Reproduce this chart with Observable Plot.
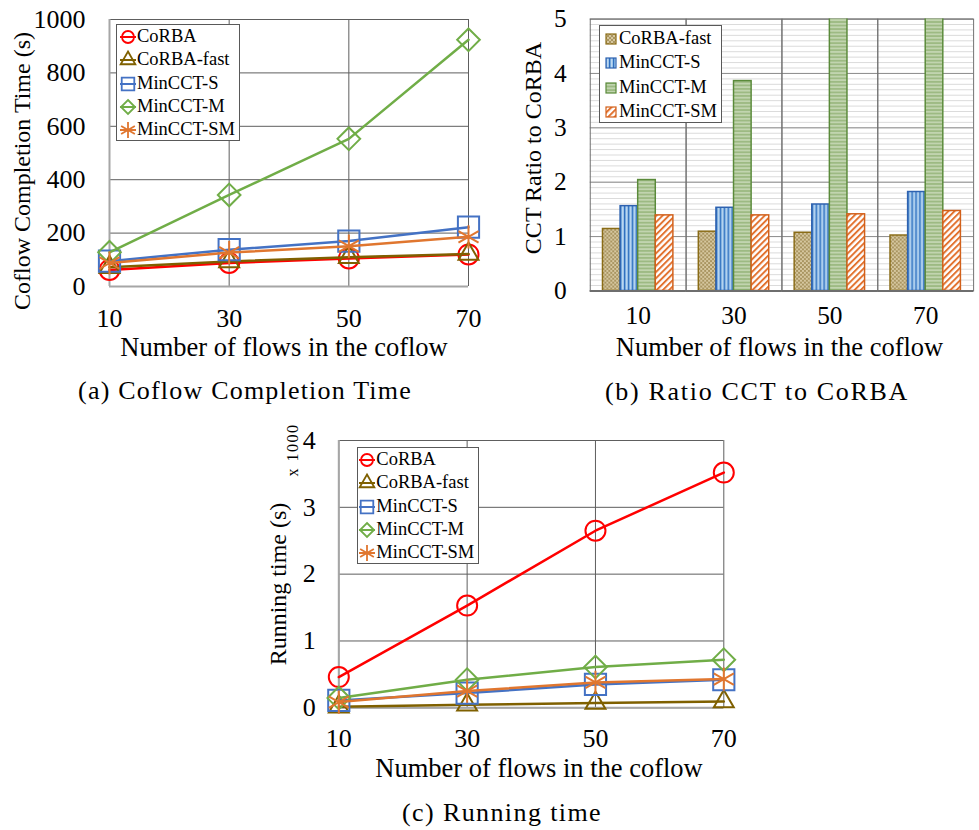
<!DOCTYPE html>
<html><head><meta charset="utf-8">
<script src="https://cdn.jsdelivr.net/npm/d3@7"></script>
<script src="https://cdn.jsdelivr.net/npm/@observablehq/plot@0.6"></script>
<style>
body{margin:0;background:#fff;}
#root{position:relative;width:979px;height:830px;overflow:hidden;font-family:"Liberation Serif","Times New Roman",serif;color:#000;background:#fff;}
.panel{position:absolute;overflow:hidden;}
.t{position:absolute;white-space:nowrap;line-height:1;transform:translate(-50%,-50%);}
.legend{position:absolute;border:1px solid #595959;background:#fff;box-sizing:border-box;}
.row{position:absolute;left:0;white-space:nowrap;line-height:1;}
</style></head><body>
<svg width="0" height="0" style="position:absolute;left:0;top:0">
  <defs>
    <pattern id="patFast" patternUnits="userSpaceOnUse" width="4" height="4">
      <rect width="4" height="4" fill="#d6c79f"></rect>
      <rect width="2" height="2" fill="#a99561"></rect>
      <rect x="2" y="2" width="2" height="2" fill="#a99561"></rect>
    </pattern>
    <pattern id="patS" patternUnits="userSpaceOnUse" width="4" height="4">
      <rect width="4" height="4" fill="#86b6e3"></rect>
      <rect width="1.2" height="4" fill="#2f6fbf"></rect>
      <rect x="2.3" width="1" height="4" fill="#d3e6f7"></rect>
    </pattern>
    <pattern id="patM" patternUnits="userSpaceOnUse" width="4" height="3.6">
      <rect width="4" height="3.6" fill="#9dba83"></rect>
      <rect y="2" width="4" height="1.4" fill="#cbdcbc"></rect>
    </pattern>
    <pattern id="patSM" patternUnits="userSpaceOnUse" width="4.5" height="4.5" patternTransform="rotate(45)">
      <rect width="4.5" height="4.5" fill="#ffffff"></rect>
      <rect width="2" height="4.5" fill="#e2722f"></rect>
    </pattern>
  </defs>
</svg>
<div id="root"></div>
<script>
// ---------- data ----------
const flows = [10, 30, 50, 70];
const flowLabels = ["10", "30", "50", "70"];
const seriesNames = ["CoRBA", "CoRBA-fast", "MinCCT-S", "MinCCT-M", "MinCCT-SM"];

// (a) Coflow completion time (s)
const cctCoRBA     = [62, 88, 105, 120];
const cctCoRBAfast = [72, 94, 110, 122];
const cctMinS      = [95, 138, 170, 222];
const cctMinM      = [128, 343, 553, 924];
const cctMinSM     = [88, 127, 151, 186];
const cctTicks     = [0, 200, 400, 600, 800, 1000];

// (b) CCT ratio to CoRBA
const barSeriesNames = ["CoRBA-fast", "MinCCT-S", "MinCCT-M", "MinCCT-SM"];
const ratioCoRBAfast = [1.14, 1.09, 1.07, 1.02];
const ratioMinS      = [1.56, 1.53, 1.59, 1.82];
const ratioMinM      = [2.04, 3.86, 5.27, 7.70];
const ratioMinSM     = [1.39, 1.39, 1.41, 1.47];
const ratioTicks     = [0, 1, 2, 3, 4, 5];

// (c) Running time (x 1000 s)
const runCoRBA     = [0.46, 1.53, 2.65, 3.52];
const runCoRBAfast = [0.015, 0.045, 0.07, 0.095];
const runMinS      = [0.11, 0.22, 0.35, 0.42];
const runMinM      = [0.145, 0.42, 0.61, 0.72];
const runMinSM     = [0.085, 0.25, 0.38, 0.43];
const runTicks     = [0, 1, 2, 3, 4];

// ---------- styles ----------
const lineStyles = {
  "CoRBA":      {color: "#ff0000", symbol: "circle",   r: 10,   lr: 6},
  "CoRBA-fast": {color: "#7f6000", symbol: "triangle2", r: 9.5, lr: 7},
  "MinCCT-S":   {color: "#4472c4", symbol: "square2",  r: 13.5, lr: 8},
  "MinCCT-M":   {color: "#70ad47", symbol: "diamond2", r: 10.2, lr: 6.3},
  "MinCCT-SM":  {color: "#e0762f", symbol: "asterisk", r: 11,   lr: 7.5}
};
const barStyles = {
  "CoRBA-fast": {fill: "url(#patFast)", stroke: "#8a6c16"},
  "MinCCT-S":   {fill: "url(#patS)",    stroke: "#2e62b0"},
  "MinCCT-M":   {fill: "url(#patM)",    stroke: "#5a8a3a"},
  "MinCCT-SM":  {fill: "url(#patSM)",   stroke: "#d2601a"}
};
const d3Symbols = {circle: d3.symbolCircle, triangle2: d3.symbolTriangle2, square2: d3.symbolSquare2, diamond2: d3.symbolDiamond2, asterisk: d3.symbolAsterisk};

const FONT = '"Liberation Serif","Times New Roman",serif';
const fmt = d => String(d);
const root = document.getElementById("root");

function addText(str, cx, cy, size, opts = {}) {
  const d = document.createElement("div");
  d.className = "t";
  d.textContent = str;
  d.style.left = cx + "px";
  d.style.top = cy + "px";
  d.style.fontSize = size + "px";
  if (opts.rotate) d.style.transform = "translate(-50%,-50%) rotate(-90deg)";
  if (opts.spacing) d.style.letterSpacing = opts.spacing + "px";
  root.appendChild(d);
}

function linePanel(cfg) {
  const marks = [
    Plot.gridX({ticks: cfg.xTicks, stroke: "#5e5e5e", strokeOpacity: 1}),
    Plot.gridY({ticks: cfg.yTicks, stroke: "#5e5e5e", strokeOpacity: 1}),
    Plot.ruleX([cfg.xTicks[0]], {stroke: "#a6a6a6", strokeWidth: 2}),
    Plot.ruleY([cfg.yTicks[0]], {stroke: "#a6a6a6", strokeWidth: 2})
  ];
  cfg.series.forEach(s => {
    const st = lineStyles[s.name];
    const rows = flows.map((f, i) => ({flows: f, value: s.values[i]}));
    marks.push(Plot.line(rows, {x: "flows", y: "value", stroke: st.color, strokeWidth: 2.5}));
    marks.push(Plot.dot(rows, {x: "flows", y: "value", symbol: st.symbol, r: st.r, stroke: st.color, strokeWidth: 2, fill: "none"}));
  });
  marks.push(Plot.axisX({ticks: cfg.xTicks, tickFormat: fmt, tickSize: 0, tickPadding: cfg.xPad, fontSize: 26, label: null}));
  marks.push(Plot.axisY({ticks: cfg.yTicks, tickFormat: fmt, tickSize: 0, tickPadding: cfg.yPad, fontSize: 26, label: null}));
  const svg = Plot.plot({
    width: cfg.width, height: cfg.height,
    marginLeft: cfg.ml, marginRight: cfg.mr, marginTop: cfg.mt, marginBottom: cfg.mb,
    style: {fontFamily: FONT, fontSize: "26px", color: "#000", background: "transparent", overflow: "visible"},
    x: {domain: [cfg.xTicks[0], cfg.xTicks[cfg.xTicks.length - 1]], axis: null},
    y: {domain: [cfg.yTicks[0], cfg.yTicks[cfg.yTicks.length - 1]], axis: null},
    marks
  });
  const div = document.createElement("div");
  div.className = "panel";
  div.style.left = cfg.left + "px"; div.style.top = cfg.top + "px";
  div.style.width = cfg.width + "px"; div.style.height = cfg.height + "px";
  div.style.overflow = "visible";
  div.appendChild(svg);
  root.appendChild(div);
}

function lineLegend(cfg) {
  const lg = document.createElement("div");
  lg.className = "legend";
  Object.assign(lg.style, {left: cfg.left + "px", top: cfg.top + "px", width: cfg.width + "px", height: cfg.height + "px", fontSize: "18.5px"});
  seriesNames.forEach((name, i) => {
    const st = lineStyles[name];
    const cy = cfg.first + cfg.step * i;
    const sym = d3.symbol(d3Symbols[st.symbol], st.lr * st.lr * Math.PI)();
    const row = document.createElement("div");
    row.className = "row";
    row.style.top = (cy - 10) + "px";
    row.style.height = "20px";
    row.innerHTML =
      `<svg width="20" height="20" style="position:absolute;left:${cfg.mx - 10}px;top:0;overflow:visible">
        <line x1="2" x2="18" y1="10" y2="10" stroke="${st.color}" stroke-width="2"></line>
        <path d="${sym}" transform="translate(10,10)" fill="none" stroke="${st.color}" stroke-width="1.8"></path>
      </svg><span style="position:absolute;left:${cfg.tx}px;top:10px;transform:translateY(-52%)">${name}</span>`;
    lg.appendChild(row);
  });
  root.appendChild(lg);
}

// ---------- panel (a) ----------
linePanel({
  left: 0, top: 0, width: 490, height: 365, ml: 109, mr: 22, mt: 19, mb: 79,
  xTicks: flows, yTicks: cctTicks, xPad: 22, yPad: 24,
  series: [
    {name: "CoRBA", values: cctCoRBA},
    {name: "CoRBA-fast", values: cctCoRBAfast},
    {name: "MinCCT-S", values: cctMinS},
    {name: "MinCCT-M", values: cctMinM},
    {name: "MinCCT-SM", values: cctMinSM}
  ]
});
lineLegend({left: 116, top: 24, width: 124, height: 117, first: 12, step: 23.35, mx: 11, tx: 20});
addText("Coflow Completion Time (s)", 22, 171, 24, {rotate: true});
addText("Number of flows in the coflow", 284, 347, 26.5);
addText("(a) Coflow Completion Time", 245, 391, 26, {spacing: 1.2});

// ---------- panel (b) ----------
(function () {
  const ratioValues = [ratioCoRBAfast, ratioMinS, ratioMinM, ratioMinSM];
  const rows = [];
  barSeriesNames.forEach((s, si) => flowLabels.forEach((g, gi) => rows.push({group: g, series: s, value: ratioValues[si][gi]})));
  const marks = [
    Plot.gridY({ticks: 50, stroke: "#dadada", strokeOpacity: 1}),
    Plot.gridY({ticks: ratioTicks, stroke: "#8c8c8c", strokeOpacity: 1}),
    Plot.frame({stroke: "#6e6e6e"}),
    ...barSeriesNames.map(s => Plot.barY(rows.filter(d => d.series === s), {
      fx: "group", x: "series", y: "value",
      fill: barStyles[s].fill, stroke: barStyles[s].stroke, strokeWidth: 1.5, clip: true
    })),
    Plot.ruleY([0], {stroke: "#6e6e6e", strokeWidth: 2}),
    Plot.axisY({ticks: ratioTicks, tickFormat: fmt, tickSize: 0, tickPadding: 24, fontSize: 26, label: null}),
    Plot.axisFx({anchor: "bottom", tickSize: 0, tickPadding: 15, fontSize: 26, label: null})
  ];
  const svg = Plot.plot({
    width: 500, height: 365, marginLeft: 101, marginRight: 5, marginTop: 19, marginBottom: 68,
    style: {fontFamily: FONT, fontSize: "26px", color: "#000", background: "transparent"},
    fx: {domain: flowLabels, padding: 0, axis: null, label: null},
    x: {domain: barSeriesNames, paddingInner: 0, paddingOuter: 0.687, axis: null},
    y: {domain: [0, 5], axis: null},
    marks
  });
  const div = document.createElement("div");
  div.className = "panel";
  Object.assign(div.style, {left: "490px", top: "0px", width: "489px", height: "365px"});
  div.appendChild(svg);
  root.appendChild(div);

  const lg = document.createElement("div");
  lg.className = "legend";
  Object.assign(lg.style, {left: "599px", top: "25px", width: "123px", height: "98px", fontSize: "18.5px"});
  barSeriesNames.forEach((name, i) => {
    const cy = 12.7 + 24.4 * i;
    const row = document.createElement("div");
    row.className = "row";
    row.style.top = (cy - 10) + "px";
    row.style.height = "20px";
    row.innerHTML =
      `<svg width="12" height="12" style="position:absolute;left:5px;top:4px">
        <rect x="1" y="1" width="10" height="10" fill="${barStyles[name].fill}" stroke="${barStyles[name].stroke}" stroke-width="1.2"></rect>
      </svg><span style="position:absolute;left:19px;top:10px;transform:translateY(-52%)">${name}</span>`;
    lg.appendChild(row);
  });
  root.appendChild(lg);
})();
addText("CCT Ratio to CoRBA", 533, 147.5, 24, {rotate: true});
addText("Number of flows in the coflow", 779.5, 347, 26.5);
addText("(b) Ratio CCT to CoRBA", 757, 392, 26, {spacing: 1.7});

// ---------- panel (c) ----------
linePanel({
  left: 260, top: 420, width: 500, height: 345, ml: 78.3, mr: 36.7, mt: 20, mb: 57.7,
  xTicks: flows, yTicks: runTicks, xPad: 21, yPad: 23,
  series: [
    {name: "CoRBA", values: runCoRBA},
    {name: "CoRBA-fast", values: runCoRBAfast},
    {name: "MinCCT-S", values: runMinS},
    {name: "MinCCT-M", values: runMinM},
    {name: "MinCCT-SM", values: runMinSM}
  ]
});
lineLegend({left: 357, top: 447, width: 122, height: 117, first: 12, step: 23.35, mx: 9.3, tx: 18.3});
addText("Running time (s)", 278, 584, 24, {rotate: true});
addText("x 1000", 293, 450, 16, {rotate: true, spacing: 1.5});
addText("Number of flows in the coflow", 539, 768, 26.5);
addText("(c) Running time", 502, 813, 26, {spacing: 1.4});
</script>
</body></html>
